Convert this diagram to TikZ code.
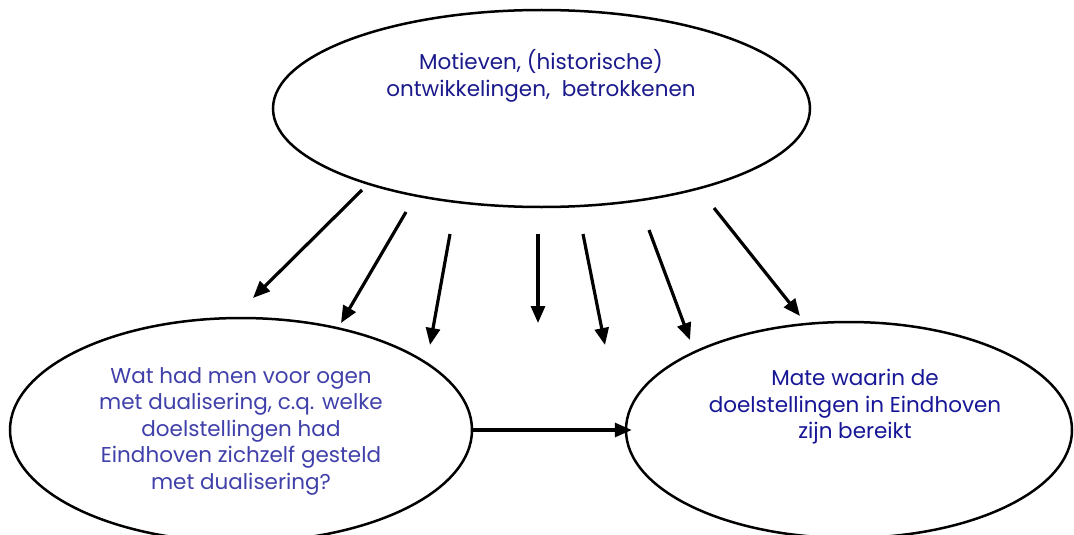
\documentclass[tikz,border=0pt]{standalone}
\usepackage{fontspec}
\setmainfont{Poppins}
\usetikzlibrary{shapes.geometric,arrows.meta}
\definecolor{topblue}{RGB}{26,26,140}
\definecolor{leftblue}{RGB}{64,64,170}
\definecolor{rightblue}{RGB}{22,22,150}
\begin{document}
\begin{tikzpicture}[x=1pt,y=-1pt,
  oval/.style={ellipse,draw=black,line width=2.5pt,inner sep=0pt},
  lbl/.style={align=center,font=\fontsize{21.5}{26.5}\selectfont},
  arr/.style={line width=3.2pt,-{Triangle[length=17pt,width=14pt]}}]
\useasboundingbox (0,0) rectangle (1074,535);
\node[oval,minimum width=537pt,minimum height=197pt] (T) at (541.5,108.5) {};
\node[oval,minimum width=462pt,minimum height=224pt] (L) at (241,430) {};
\node[oval,minimum width=446pt,minimum height=216pt] (R) at (849,430) {};
\node[lbl,text=topblue] (tt) at (541,76) {Motieven, (historische)\\ontwikkelingen,\ \ betrokkenen};
\node[lbl,text=leftblue] (lt) at (241,431) {Wat had men voor ogen\\met dualisering, c.q. welke\\doelstellingen had\\Eindhoven zichzelf gesteld\\met dualisering?};
\node[lbl,text=rightblue] (rt) at (855,407) {Mate waarin de\\doelstellingen in Eindhoven\\zijn bereikt};
\coordinate (s1) at (362,190); \coordinate (e1) at (253,298);
\coordinate (s2) at (406,212); \coordinate (e2) at (341,323);
\coordinate (s3) at (450,234); \coordinate (e3) at (430,345);
\coordinate (s4) at (538,234); \coordinate (e4) at (538,323);
\coordinate (s5) at (583,234); \coordinate (e5) at (605,345);
\coordinate (s6) at (649,230); \coordinate (e6) at (690,340);
\coordinate (s7) at (714,208); \coordinate (e7) at (800,316);
\foreach \i in {1,...,7} {\draw[arr] (s\i) -- (e\i);}
\draw[arr] (L.east) -- ([xshift=7pt]R.west);
\end{tikzpicture}
\end{document}
